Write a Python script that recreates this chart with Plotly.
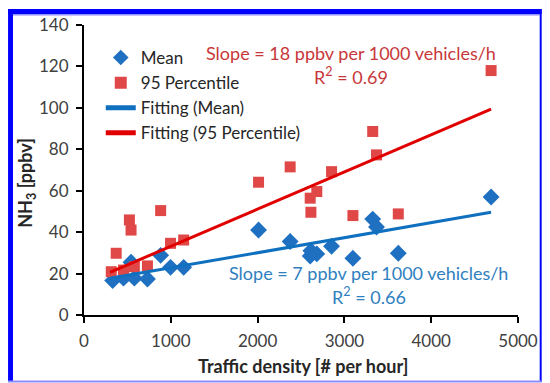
import plotly.graph_objects as go

# ---- data ----
mean_x = [330, 455, 542, 580, 731, 883, 997, 1148, 2011, 2375, 2606, 2614, 2682, 2852, 3098, 3326, 3370, 3621, 4690]
mean_y = [16.6, 17.8, 25.5, 17.8, 17.4, 28.8, 23.0, 23.0, 41.0, 35.5, 28.5, 31.0, 29.5, 33.2, 27.4, 46.3, 42.5, 29.8, 57.0]

p95_x = [314, 371, 455, 523, 542, 580, 731, 883, 997, 1148, 2011, 2375, 2606, 2614, 2682, 2852, 3098, 3326, 3370, 3621, 4690]
p95_y = [20.9, 29.8, 21.7, 45.9, 41.0, 23.3, 23.7, 50.4, 34.6, 36.2, 64.1, 71.5, 56.4, 49.6, 59.6, 69.2, 48.0, 88.6, 77.3, 48.8, 118.0]

fit_x = [300, 4690]
fit_mean_y = [17.7, 49.6]
fit_p95_y = [20.6, 99.4]

x_ticks = [0, 1000, 2000, 3000, 4000, 5000]
y_ticks = [0, 20, 40, 60, 80, 100, 120, 140]

FONT = "Lato"
W, H = 550, 383
L, R, T, B = 84, 524, 25, 315


def px(x):
    return (x - L) / (R - L)


def py(y):
    return (B - y) / (B - T)


fig = go.Figure()
fig.add_trace(go.Scatter(x=mean_x, y=mean_y, mode="markers", name="Mean",
                         marker=dict(symbol="diamond", size=13, color="#1F70C1")))
fig.add_trace(go.Scatter(x=p95_x, y=p95_y, mode="markers", name="95 Percentile",
                         marker=dict(symbol="square", size=11, color="#E04848")))
fig.add_trace(go.Scatter(x=fit_x, y=fit_mean_y, mode="lines", name="Fitting (Mean)",
                         line=dict(color="#1070C0", width=3)))
fig.add_trace(go.Scatter(x=fit_x, y=fit_p95_y, mode="lines", name="Fitting (95 Percentile)",
                         line=dict(color="#E00000", width=3)))

axis_common = dict(showgrid=False, zeroline=False, showline=True, linecolor="black",
                   linewidth=2, ticks="outside", ticklen=6, tickwidth=2, tickcolor="black",
                   ticklabelstandoff=4,
                   tickfont=dict(family=FONT, size=17, color="#404040"))
fig.update_xaxes(range=[0, 5000], tickvals=x_ticks, **axis_common)
fig.update_yaxes(range=[0, 140], tickvals=y_ticks, **axis_common)

annotations = [
    dict(text="Slope = 18 ppbv per 1000 vehicles/h", x=px(355), y=py(53),
         font=dict(color="#C8373A", size=18, family=FONT)),
    dict(text="R<sup>2</sup> = 0.69", x=px(355), y=py(76),
         font=dict(color="#C8373A", size=18, family=FONT)),
    dict(text="Slope = 7 ppbv per 1000 vehicles/h", x=px(372), y=py(273),
         font=dict(color="#2F80C0", size=18, family=FONT)),
    dict(text="R<sup>2</sup> = 0.66", x=px(373), y=py(296),
         font=dict(color="#2F80C0", size=18, family=FONT)),
    dict(text="<b>Traffic density [# per hour]</b>", x=px(306), y=py(366),
         font=dict(color="#262626", size=18, family=FONT)),
    dict(text="<b>NH<sub>3</sub> [ppbv]</b>", x=px(25), y=py(183), textangle=-90,
         font=dict(color="#262626", size=18, family=FONT)),
]
for a in annotations:
    a.update(xref="paper", yref="paper", showarrow=False, xanchor="center", yanchor="middle")

shapes = [
    dict(type="rect", x0=px(7), x1=px(12), y0=py(9), y1=py(382), fillcolor="#0000FF", line_width=0),
    dict(type="rect", x0=px(7), x1=px(548), y0=py(9), y1=py(14), fillcolor="#0000FF", line_width=0),
    dict(type="rect", x0=px(12), x1=px(546), y0=py(14), y1=py(15.5), fillcolor="#9090FF", line_width=0),
    dict(type="rect", x0=px(546), x1=px(548), y0=py(9), y1=py(382), fillcolor="#0000FF", line_width=0),
    dict(type="rect", x0=px(7), x1=px(548), y0=py(380.5), y1=py(382.5), fillcolor="#8C8CFF", line_width=0),
]
for s in shapes:
    s.update(xref="paper", yref="paper")

fig.update_layout(
    width=W, height=H,
    margin=dict(l=L, r=W - R, t=T, b=H - B),
    paper_bgcolor="white", plot_bgcolor="white",
    font=dict(family=FONT, size=17, color="#262626"),
    legend=dict(x=px(101), y=py(40), xanchor="left", yanchor="top",
                bgcolor="rgba(0,0,0,0)", font=dict(family=FONT, size=17, color="#262626"),
                tracegroupgap=0, itemsizing="constant"),
    annotations=annotations,
    shapes=shapes,
)

fig.write_html("out.html")
